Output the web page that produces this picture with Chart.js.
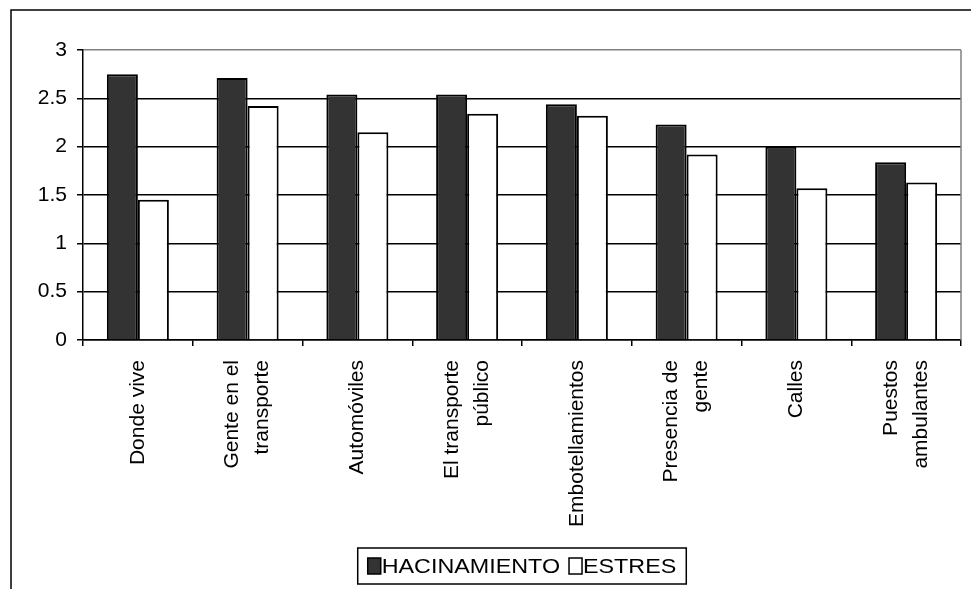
<!DOCTYPE html>
<html>
<head>
<meta charset="utf-8">
<script src="https://cdn.jsdelivr.net/npm/chart.js@4"></script>
<style>
  body { margin: 0; background: #fff; }
</style>
</head>
<body>
<canvas id="myChart" width="971" height="589"></canvas>
<script>
// categorias del eje x (arrays = etiqueta en dos lineas)
var categorias = [
  "Donde vive",
  ["Gente en el", "transporte"],
  "Automóviles",
  ["El transporte", "público"],
  "Embotellamientos",
  ["Presencia de", "gente"],
  "Calles",
  ["Puestos", "ambulantes"]
];
var hacinamiento = [2.75, 2.71, 2.54, 2.54, 2.44, 2.23, 2.0, 1.84];
var estres = [1.45, 2.42, 2.15, 2.34, 2.32, 1.92, 1.57, 1.63];
var yMin = 0, yMax = 3, yPaso = 0.5;

var fuente = '"Liberation Sans", Arial, sans-serif';

// fondo blanco + marco exterior
var marco = {
  id: "marco",
  beforeDraw: function (chart) {
    var c = chart.ctx;
    c.save();
    c.fillStyle = "#fff";
    c.fillRect(0, 0, chart.width, chart.height);
    c.restore();
  },
  afterDraw: function (chart) {
    var c = chart.ctx;
    var a = chart.chartArea;
    c.save();
    c.strokeStyle = "#000";
    c.lineWidth = 1.5;
    c.strokeRect(11, 10, chart.width + 20, chart.height + 20);
    // borde derecho gris del area de trazado
    c.strokeStyle = "#808080";
    c.lineWidth = 1.5;
    c.beginPath();
    c.moveTo(a.right, a.top);
    c.lineTo(a.right, a.bottom);
    c.stroke();
    c.restore();
  }
};

// etiquetas verticales del eje x, centradas en la categoria
var etiquetasX = {
  id: "etiquetasX",
  afterDraw: function (chart) {
    var c = chart.ctx;
    var xs = chart.scales.x;
    var lh = 30;
    c.save();
    c.fillStyle = "#000";
    c.font = "21px " + fuente;
    c.textAlign = "right";
    c.textBaseline = "middle";
    chart.data.labels.forEach(function (lab, i) {
      var lineas = Array.isArray(lab) ? lab : [lab];
      var px = xs.getPixelForValue(i);
      lineas.forEach(function (t, j) {
        var x = px + (j - (lineas.length - 1) / 2) * lh;
        c.save();
        c.translate(x, xs.top + 20);
        c.rotate(-Math.PI / 2);
        c.fillText(t, 0, 0);
        c.restore();
      });
    });
    c.restore();
  }
};

// leyenda con recuadro
var leyenda = {
  id: "leyenda",
  afterDraw: function (chart) {
    var c = chart.ctx;
    var a = chart.chartArea;
    var esc = 1.11;
    var sep = 9;
    c.save();
    c.font = "21px " + fuente;
    c.textBaseline = "middle";
    var items = chart.data.datasets.map(function (ds) {
      return { ds: ds, w: c.measureText(ds.label).width * esc };
    });
    var total = 0;
    items.forEach(function (it, i) {
      total += 14 + it.w + (i < items.length - 1 ? sep : 0);
    });
    var cx = (a.left + a.right) / 2;
    var x = cx - total / 2;
    var top = 548, h = 36;
    c.strokeStyle = "#000";
    c.lineWidth = 1.5;
    c.fillStyle = "#fff";
    c.fillRect(x - 10, top, total + 20, h);
    c.strokeRect(x - 10, top, total + 20, h);
    items.forEach(function (it) {
      c.fillStyle = it.ds.backgroundColor;
      c.fillRect(x, 558, 13, 16);
      c.lineWidth = 1.5;
      c.strokeRect(x, 558, 13, 16);
      c.fillStyle = "#000";
      c.save();
      c.translate(x + 14, 567);
      c.scale(esc, 1);
      c.fillText(it.ds.label, 0, 0);
      c.restore();
      x += 14 + it.w + sep;
    });
    c.restore();
  }
};

var ctx = document.getElementById("myChart");
var chart = new Chart(ctx, {
  type: "bar",
  data: {
    labels: categorias,
    datasets: [
      {
        label: "HACINAMIENTO",
        data: hacinamiento,
        backgroundColor: "#333333",
        borderColor: "#000",
        borderWidth: 2,
        categoryPercentage: 0.565,
        barPercentage: 1.0
      },
      {
        label: "ESTRES",
        data: estres,
        backgroundColor: "#ffffff",
        borderColor: "#000",
        borderWidth: 2,
        categoryPercentage: 0.565,
        barPercentage: 1.0
      }
    ]
  },
  options: {
    responsive: false,
    animation: false,
    layout: { padding: { top: 50, right: 10, left: 0, bottom: 0 } },
    plugins: {
      legend: { display: false },
      tooltip: { enabled: false }
    },
    scales: {
      x: {
        offset: true,
        grid: {
          offset: true,
          drawOnChartArea: false,
          drawTicks: true,
          tickLength: 6,
          color: "#000",
          lineWidth: 1.5
        },
        border: { color: "#000", width: 1.5 },
        ticks: { display: false },
        afterFit: function (scale) { scale.height = 249; }
      },
      y: {
        min: yMin,
        max: yMax,
        ticks: {
          stepSize: yPaso,
          color: "#000",
          padding: 10,
          font: { family: fuente, size: 21 },
          callback: function (v) { return String(v); }
        },
        grid: {
          color: function (c) { return c.tick && c.tick.value === yMax ? "#808080" : "#000"; },
          tickColor: "#000",
          tickLength: 6,
          lineWidth: 1.5
        },
        border: { color: "#000", width: 1.5 },
        afterFit: function (scale) { scale.width = 83; }
      }
    }
  },
  plugins: [marco, etiquetasX, leyenda]
});
</script>
</body>
</html>
